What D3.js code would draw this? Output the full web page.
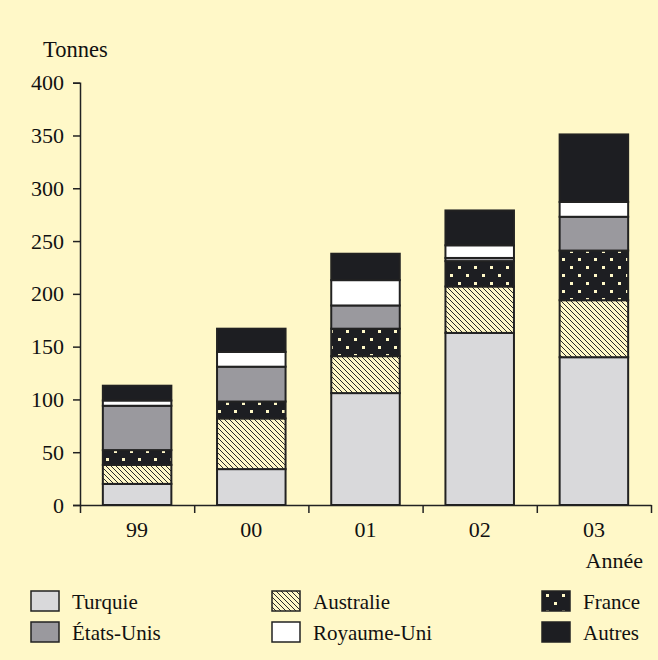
<!DOCTYPE html>
<html>
<head>
<meta charset="utf-8">
<script src="https://cdn.jsdelivr.net/npm/d3@7"></script>
</head>
<body style="margin:0;padding:0;background:#FFF8C8">
<svg id="chart" width="658" height="660" font-family="Liberation Serif" font-size="21" style="display:block"></svg>
<script>
// Years and tonnages by origin (stacked bottom to top)
const years = ["99", "00", "01", "02", "03"];
const turquie    = [20, 34, 106, 163, 140];
const australie  = [18, 48, 35, 44, 54];
const france     = [14, 16, 26, 24, 47];
const etatsUnis  = [42, 33, 22, 3, 32];
const royaumeUni = [5, 14, 24, 12, 14];
const autres     = [14, 22, 25, 33, 64];
const yTicks = [0, 50, 100, 150, 200, 250, 300, 350, 400];

const seriesNames = ["Turquie", "Australie", "France", "États-Unis", "Royaume-Uni", "Autres"];
const seriesValues = [turquie, australie, france, etatsUnis, royaumeUni, autres];
const legendOrder = ["Turquie", "Australie", "France", "États-Unis", "Royaume-Uni", "Autres"];

const rows = years.map((yr, i) => {
  const r = { year: yr };
  seriesNames.forEach((n, k) => { r[n] = seriesValues[k][i]; });
  return r;
});

const FONT = "Liberation Serif";
const bg = "#FFF8C8";
const ink = "#1d1e22";

const svg = d3.select("#chart");
svg.append("rect").attr("width", 658).attr("height", 660).attr("fill", bg);

function styleText(sel, size) {
  sel.attr("font-family", FONT).attr("font-size", size).attr("fill", "#111");
}

// Fill patterns
const defs = svg.append("defs");
const hatch = defs.append("pattern")
  .attr("id", "hatch").attr("patternUnits", "userSpaceOnUse")
  .attr("width", 5).attr("height", 5);
hatch.append("rect").attr("width", 5).attr("height", 5).attr("fill", bg);
hatch.append("path").attr("d", "M-1,-1 L6,6 M-1,4 L1,6 M4,-1 L6,1")
  .attr("stroke", "#2a2a2a").attr("stroke-width", 1);

const dots = defs.append("pattern")
  .attr("id", "dots").attr("patternUnits", "userSpaceOnUse")
  .attr("width", 16).attr("height", 16);
dots.append("rect").attr("width", 16).attr("height", 16).attr("fill", ink);
dots.append("rect").attr("x", 2).attr("y", 2).attr("width", 3).attr("height", 3).attr("fill", bg);
dots.append("rect").attr("x", 10).attr("y", 10).attr("width", 3).attr("height", 3).attr("fill", bg);

const fills = {
  "Turquie": "#D9D9DB",
  "Australie": "url(#hatch)",
  "France": "url(#dots)",
  "États-Unis": "#9A999E",
  "Royaume-Uni": "#FFFFFF",
  "Autres": ink
};

// Scales
const x0 = 80, x1 = 651;
const x = d3.scaleBand().domain(years).range([x0, x1]).paddingInner(0.4).paddingOuter(0.2);
const y = d3.scaleLinear().domain([0, 400]).range([505, 82.7]);

const stacked = d3.stack().keys(seriesNames)(rows);

// Bars
const layers = svg.append("g").selectAll("g")
  .data(stacked).join("g")
  .attr("fill", d => fills[d.key]);

layers.selectAll("rect")
  .data(d => d)
  .join("rect")
  .attr("x", d => x(d.data.year))
  .attr("width", x.bandwidth())
  .attr("y", d => y(d[1]))
  .attr("height", d => y(d[0]) - y(d[1]))
  .attr("stroke", "#222")
  .attr("stroke-width", 2);

// Y axis
const yAxis = svg.append("g")
  .attr("transform", `translate(${x0},0)`)
  .call(d3.axisLeft(y).tickValues(yTicks).tickSize(7).tickPadding(9));
yAxis.attr("font-family", FONT).attr("font-size", 22);
yAxis.selectAll("path, line").attr("stroke", "#222").attr("stroke-width", 1.5);
yAxis.selectAll("text").call(styleText, 22);

// X axis: ticks on band boundaries, labels at band centres
const edge = d3.scaleLinear().domain([0, years.length]).range([x0, x1]);
const xEdges = svg.append("g")
  .attr("transform", `translate(0,${y(0)})`)
  .call(d3.axisBottom(edge).tickValues(d3.range(years.length + 1)).tickFormat("").tickSize(8).tickSizeOuter(0));
xEdges.selectAll("path, line").attr("stroke", "#222").attr("stroke-width", 1.5);

const xLabels = svg.append("g")
  .attr("transform", `translate(0,${y(0)})`)
  .call(d3.axisBottom(x).tickSize(0).tickPadding(16));
xLabels.attr("font-family", FONT).attr("font-size", 22);
xLabels.select(".domain").remove();
xLabels.selectAll("text").call(styleText, 22);

// Axis titles
svg.append("text").attr("x", 43).attr("y", 57).text("Tonnes").call(styleText, 22.5);
svg.append("text").attr("x", 643).attr("y", 568).attr("text-anchor", "end").text("Année").call(styleText, 22);

// Legend (3 columns x 2 rows)
const colX = [31, 272, 542];
const rowY = [591, 622];
const legend = svg.append("g");
legendOrder.forEach((name, i) => {
  const cx = colX[i % 3], cy = rowY[Math.floor(i / 3)];
  legend.append("rect")
    .attr("x", cx).attr("y", cy).attr("width", 28).attr("height", 20)
    .attr("fill", fills[name]).attr("stroke", "#222").attr("stroke-width", 1.5);
  legend.append("text")
    .attr("x", cx + 41).attr("y", cy + 18)
    .text(name).call(styleText, 21);
});
</script>
</body>
</html>
